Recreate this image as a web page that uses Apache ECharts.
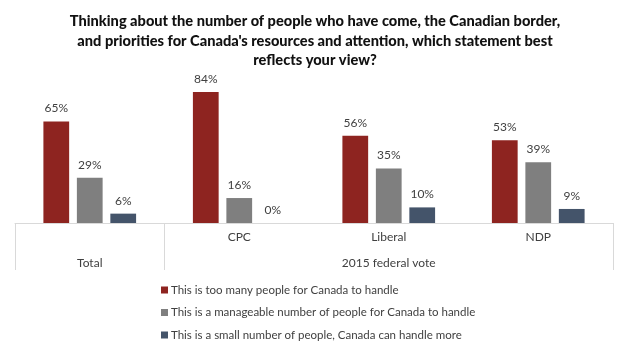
<!DOCTYPE html>
<html>
<head>
<meta charset="utf-8">
<script src="https://cdn.jsdelivr.net/npm/echarts@6/dist/echarts.min.js"></script>
<style>
  html, body { margin: 0; padding: 0; background: #fff; }
  #chart { width: 630px; height: 353px; }
</style>
</head>
<body>
<div id="chart"></div>
<script>
var groups = ['', 'CPC', 'Liberal', 'NDP'];
var outerGroups = ['Total', '', '2015 federal vote', ''];
var seriesNames = [
  'This is too many people for Canada to handle',
  'This is a manageable number of people for Canada to handle',
  'This is a small number of people, Canada can handle more'
];
var tooMany = [65, 84, 56, 53];
var manageable = [29, 16, 35, 39];
var small = [6, 0, 10, 9];
var colors = ['#8E2420', '#7F7F7F', '#44546A'];

var font = 'Lato';
var chart = echarts.init(document.getElementById('chart'));

function bar(name, data, color) {
  return {
    name: name,
    type: 'bar',
    data: data,
    barGap: '30%',
    barCategoryGap: '38%',
    itemStyle: { color: color },
    label: {
      show: true,
      position: 'top',
      distance: 7,
      formatter: '{c}%',
      color: '#404040',
      fontFamily: font,
      fontSize: 12
    }
  };
}

chart.setOption({
  animation: false,
  color: colors,
  title: {
    text: 'Thinking about the number of people who have come, the Canadian border,\nand priorities for Canada\'s resources and attention, which statement best\nreflects your view?',
    left: 'center',
    top: 7,
    textStyle: {
      fontFamily: font,
      fontWeight: 900,
      fontSize: 14.6,
      lineHeight: 19.5,
      color: '#111'
    }
  },
  legend: {
    orient: 'vertical',
    left: 156,
    top: 279,
    itemWidth: 7,
    itemHeight: 7,
    itemGap: 10.5,
    icon: 'rect',
    textStyle: { fontFamily: font, fontSize: 11.5, color: '#404040', padding: [0, 0, 0, -2] }
  },
  grid: { left: 15, right: 17, top: 67, bottom: 130 },
  xAxis: [
    {
      type: 'category',
      data: groups,
      axisLine: { lineStyle: { color: '#D9D9D9' } },
      axisTick: {
        show: true,
        inside: false,
        length: 47,
        interval: function (index) { return index === 0 || index === 1; },
        lineStyle: { color: '#D9D9D9' }
      },
      axisLabel: { margin: 8, fontFamily: font, fontSize: 12, color: '#404040', interval: 0 }
    },
    {
      type: 'category',
      data: outerGroups,
      position: 'bottom',
      axisLine: { show: false },
      axisTick: { show: false },
      axisLabel: { margin: 34, fontFamily: font, fontSize: 12, color: '#404040', interval: 0 }
    }
  ],
  yAxis: {
    type: 'value',
    min: 0,
    max: 100,
    show: false
  },
  series: [
    bar(seriesNames[0], tooMany, colors[0]),
    bar(seriesNames[1], manageable, colors[1]),
    bar(seriesNames[2], small, colors[2])
  ]
});
</script>
</body>
</html>
